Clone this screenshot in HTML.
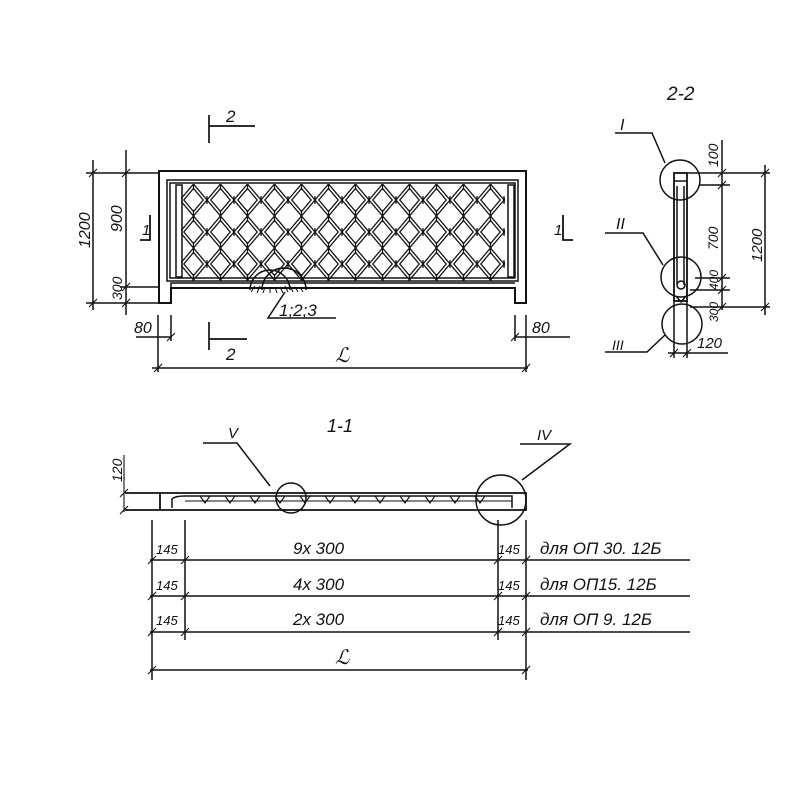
<!DOCTYPE html>
<html><head><meta charset="utf-8"><style>
html,body{margin:0;padding:0;background:#fff}
svg{display:block}
text{font-family:"Liberation Sans",sans-serif;font-style:italic;fill:#111}
</style></head><body>
<svg width="800" height="800" viewBox="0 0 800 800" xmlns="http://www.w3.org/2000/svg">
<defs>
<pattern id="lat" patternUnits="userSpaceOnUse" x="180" y="184" width="27" height="32">
<g stroke="#111" stroke-width="1.3" fill="none">
<path d="M13.5 0 L27 16 L13.5 32 L0 16 Z"/>
<path d="M13.5 4.5 L23.2 16 L13.5 27.5 L3.8 16 Z"/>
<path d="M13.5 0 V6 M13.5 26 V32 M0 12 V20 M27 12 V20"/>
</g>
</pattern>
<clipPath id="lc"><rect x="181" y="184" width="324" height="97"/></clipPath>
</defs>
<g stroke="#111" stroke-width="1.5" fill="none">
<path d="M159 171 H526 V303 H515 V288 H171 V303 H159 Z" stroke-width="2"/>
<rect x="167" y="180" width="351" height="101"/>
<rect x="170" y="183" width="345" height="95"/>
<rect x="176" y="185" width="6" height="92"/>
<rect x="508" y="185" width="6" height="92"/>
<rect x="181" y="184" width="324" height="97" fill="url(#lat)" stroke="none" clip-path="url(#lc)"/>
<path d="M171 288 V283 H515"/>
<path d="M250 290 A20 20 0 0 1 290 290 M262 290 A22 22 0 0 1 306 290" />
<path d="M255 286 l-4 6 M260 286 l-3 7 M265 287 l-2 6 M270 287 l0 6 M275 287 l2 6 M280 287 l3 6 M285 286 l3 6 M290 286 l3 6 M295 287 l3 5 M300 287 l3 5" stroke-width="1"/>
<path d="M285 292 L268 318 H336"/>
<path d="M93 160 V310 M86 173 H160 M86 303 H160 M126 150 V315 M120 287 H160 M120 173 H140"/>
<path d="M89 177 L97 169 M89 307 L97 299 M122 177 L130 169 M122 291 L130 283 M122 307 L130 299" stroke-width="1.1"/>
<path d="M150 215 V240 H140 M563 215 V240 H573" stroke-width="1.8"/>
<path d="M209 115 V143 M209 126 H255 M209 322 V350 M209 339 H247" stroke-width="1.7"/>
<path d="M152 368 H528 M158 315 V372 M526 315 V372 M136 337 H171 M171 315 V341 M515 315 V341 M515 337 H570"/>
<path d="M154 372 L162 364 M522 372 L530 364 M167 341 L175 333 M511 341 L519 333" stroke-width="1.1"/>
<rect x="674" y="173" width="13" height="128" stroke-width="1.8"/>
<path d="M677 186 V285 M684 186 V285 M674 181 H687"/>
<circle cx="681" cy="285" r="4"/>
<path d="M676 296 L681 302 L686 296" />
<circle cx="680" cy="180" r="20"/>
<circle cx="681" cy="277" r="20"/>
<circle cx="682" cy="324" r="20"/>
<path d="M615 133 H652 L665 163 M605 233 H643 L663 265 M605 352 H647 L665 335"/>
<path d="M687 173 H770 M700 185 H730 M695 278 H730 M690 290 H730 M690 307 H770 M722 140 V310 M765 165 V315"/>
<path d="M718 177 L726 169 M718 189 L726 181 M718 282 L726 274 M718 294 L726 286 M718 311 L726 303 M761 177 L769 169 M761 311 L769 303" stroke-width="1.1"/>
<path d="M674 300 V358 M687 300 V358 M668 353 H728"/>
<path d="M670 357 L678 349 M683 357 L691 349" stroke-width="1.1"/>
<path d="M160 493 H526 V510 H160 Z M125 493 H160 M125 510 H160" stroke-width="1.8"/>
<path d="M172 508 V499 Q175 496 185 496 H512 V508"/>
<path d="M185 501 H512" stroke-width="1"/>
<g stroke-width="1.1">
<path d="M200 496 l5 7 5-7 M225 496 l5 7 5-7 M250 496 l5 7 5-7 M275 496 l5 7 5-7 M300 496 l5 7 5-7 M325 496 l5 7 5-7 M350 496 l5 7 5-7 M375 496 l5 7 5-7 M400 496 l5 7 5-7 M425 496 l5 7 5-7 M450 496 l5 7 5-7 M475 496 l5 7 5-7"/>
</g>
<circle cx="291" cy="498" r="15"/>
<circle cx="501" cy="500" r="25"/>
<path d="M203 443 H237 L270 486 M520 444 H570 L522 480"/>
<path d="M124 455 V512 M120 497 L128 489 M120 514 L128 506" stroke-width="1.1"/>
<path d="M152 520 V680 M185 520 V640 M498 520 V640 M526 520 V680"/>
<path d="M150 560 H690 M150 596 H690 M150 632 H690 M150 670 H528"/>
<path d="M148 564 L156 556 M181 564 L189 556 M494 564 L502 556 M522 564 L530 556 M148 600 L156 592 M181 600 L189 592 M494 600 L502 592 M522 600 L530 592 M148 636 L156 628 M181 636 L189 628 M494 636 L502 628 M522 636 L530 628 M148 674 L156 666 M522 674 L530 666" stroke-width="1.1"/>
</g>
<g font-size="17">
<text x="226" y="122">2</text>
<text x="226" y="360">2</text>
<text x="142" y="235" font-size="15">1</text>
<text x="554" y="235" font-size="15">1</text>
<text x="279" y="316" font-size="17">1;2;3</text>
<text x="134" y="333" font-size="16">80</text>
<text x="532" y="333" font-size="16">80</text>
<text x="335" y="362" font-size="20" font-family="Liberation Serif">ℒ</text>
<text transform="translate(90,248) rotate(-90)" font-size="16">1200</text>
<text transform="translate(122,232) rotate(-90)" font-size="16">900</text>
<text transform="translate(122,300) rotate(-90)" font-size="14">300</text>
<text x="667" y="100" font-size="19">2-2</text>
<text x="620" y="130" font-size="16" font-family="Liberation Serif">I</text>
<text x="616" y="229" font-size="16" font-family="Liberation Serif">II</text>
<text x="612" y="350" font-size="14" font-family="Liberation Serif">III</text>
<text transform="translate(718,167) rotate(-90)" font-size="14">100</text>
<text transform="translate(718,250) rotate(-90)" font-size="14">700</text>
<text transform="translate(718,290) rotate(-90)" font-size="12">400</text>
<text transform="translate(718,322) rotate(-90)" font-size="12">300</text>
<text transform="translate(762,262) rotate(-90)" font-size="15">1200</text>
<text x="697" y="348" font-size="15">120</text>
<text x="327" y="432" font-size="18">1-1</text>
<text x="228" y="438" font-size="15" font-family="Liberation Serif">V</text>
<text x="537" y="440" font-size="15" font-family="Liberation Serif">IV</text>
<text transform="translate(122,482) rotate(-90)" font-size="14">120</text>
<text x="156" y="554" font-size="13">145</text>
<text x="498" y="554" font-size="13">145</text>
<text x="293" y="554" font-size="17">9x 300</text>
<text x="540" y="554" font-size="17">для  ОП 30. 12Б</text>
<text x="156" y="590" font-size="13">145</text>
<text x="498" y="590" font-size="13">145</text>
<text x="293" y="590" font-size="17">4x 300</text>
<text x="540" y="590" font-size="17">для  ОП15. 12Б</text>
<text x="156" y="625" font-size="13">145</text>
<text x="498" y="625" font-size="13">145</text>
<text x="293" y="625" font-size="17">2x 300</text>
<text x="540" y="625" font-size="17">для  ОП 9.  12Б</text>
<text x="335" y="664" font-size="20" font-family="Liberation Serif">ℒ</text>
</g>
</svg>
</body></html>
